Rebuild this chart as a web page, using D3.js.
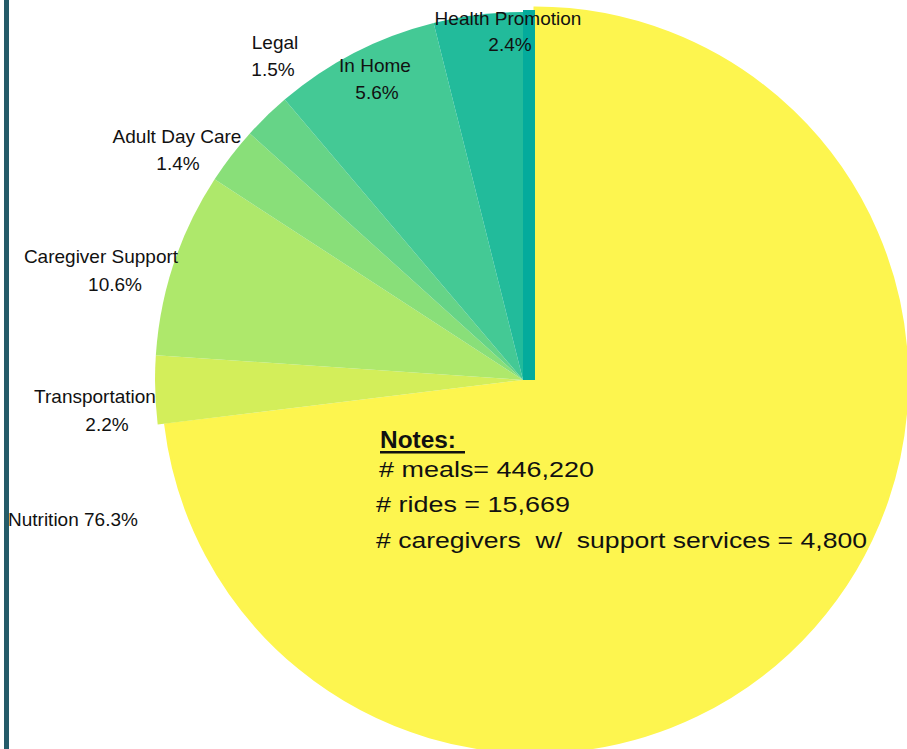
<!DOCTYPE html>
<html>
<head>
<meta charset="utf-8">
<script src="https://cdn.jsdelivr.net/npm/d3@7"></script>
<style>
  html, body { margin: 0; padding: 0; background: #ffffff; }
  svg { display: block; font-family: "Liberation Sans", Arial, sans-serif; }
</style>
</head>
<body>
<div id="chart"></div>
<script>
// Data
const categories = ["Nutrition", "Transportation", "Caregiver Support", "Adult Day Care", "Legal", "In Home", "Health Promotion"];
// slice sizes as drawn in the picture (share of the circle, %)
const shares = [73.0, 3.0, 8.1, 2.5, 2.1, 7.3, 3.9];
// percentages printed on the labels
const pctLabels = ["76.3%", "2.2%", "10.6%", "1.4%", "1.5%", "5.6%", "2.4%"];
const colors = ["#fdf54f", "#d3ee5a", "#aee86b", "#89df79", "#66d487", "#44c995", "#22bb9b"];
const notes = ["# meals= 446,220", "# rides = 15,669", "# caregivers  w/  support services = 4,800"];

const width = 907;
const height = 749;
const cx = 523, cy = 380, radius = 368;
const explode = 12; // Nutrition slice is pulled to the right

const svg = d3.select("#chart")
    .append("svg")
    .attr("width", width)
    .attr("height", height);

// left rule
svg.append("rect")
    .attr("x", 4)
    .attr("y", 0)
    .attr("width", 5)
    .attr("height", height)
    .style("fill", "#245b69");

const pie = d3.pie()
    .sort(null)
    .value(d => d);

const arcs = pie(shares);

const arc = d3.arc()
    .innerRadius(0)
    .outerRadius(radius);

const bigArc = d3.arc()
    .innerRadius(0)
    .outerRadius(radius + 4);

const g = svg.append("g")
    .attr("transform", `translate(${cx},${cy})`);

// Nutrition (exploded)
g.append("path")
    .attr("d", bigArc(arcs[0]))
    .attr("transform", `translate(${explode},0)`)
    .style("fill", colors[0])
    .style("stroke", colors[0])
    .style("stroke-width", 3);

g.selectAll("path.slice")
    .data(arcs.slice(1))
    .enter()
    .append("path")
    .attr("class", "slice")
    .attr("d", arc)
    .style("fill", (d, i) => colors[i + 1]);

// teal strip filling the gap at 12 o'clock
g.append("rect")
    .attr("x", 0)
    .attr("y", -radius - 2)
    .attr("width", explode)
    .attr("height", radius + 2)
    .style("fill", "#04ab9c");

// Labels (two lines, centred)
const labelPos = [
    null,
    { x: 95, y: 403, x2: 107, y2: 431 },
    { x: 101, y: 263, x2: 115, y2: 291 },
    { x: 177, y: 143, x2: 178, y2: 170 },
    { x: 275, y: 49, x2: 273, y2: 76 },
    { x: 375, y: 72, x2: 377, y2: 99 },
    { x: 508, y: 25, x2: 510, y2: 51 }
];

const labelFont = "19px";

categories.forEach((c, i) => {
    if (i === 0) {
        svg.append("text")
            .attr("x", 8)
            .attr("y", 526)
            .style("font-size", labelFont)
            .style("fill", "#111")
            .text(`${c} ${pctLabels[i]}`);
        return;
    }
    const p = labelPos[i];
    svg.append("text")
        .attr("x", p.x)
        .attr("y", p.y)
        .attr("text-anchor", "middle")
        .style("font-size", labelFont)
        .style("fill", "#111")
        .text(c);
    svg.append("text")
        .attr("x", p.x2)
        .attr("y", p.y2)
        .attr("text-anchor", "middle")
        .style("font-size", labelFont)
        .style("fill", "#111")
        .text(pctLabels[i]);
});

// Notes box
svg.append("text")
    .attr("x", 380)
    .attr("y", 448)
    .style("font-size", "23px")
    .style("font-weight", "bold")
    .style("fill", "#111")
    .attr("textLength", 76)
    .attr("lengthAdjust", "spacingAndGlyphs")
    .text("Notes:");
svg.append("rect")
    .attr("x", 380)
    .attr("y", 451)
    .attr("width", 85)
    .attr("height", 2.5)
    .style("fill", "#111");

const noteX = [379, 376, 376];
const noteY = [477, 512, 548];
const noteW = [215, 194, 491];
notes.forEach((n, i) => {
    svg.append("text")
        .attr("x", noteX[i])
        .attr("y", noteY[i])
        .style("font-size", "22px")
        .style("fill", "#111")
        .style("white-space", "pre")
        .attr("textLength", noteW[i])
        .attr("lengthAdjust", "spacingAndGlyphs")
        .text(n);
});
</script>
</body>
</html>
